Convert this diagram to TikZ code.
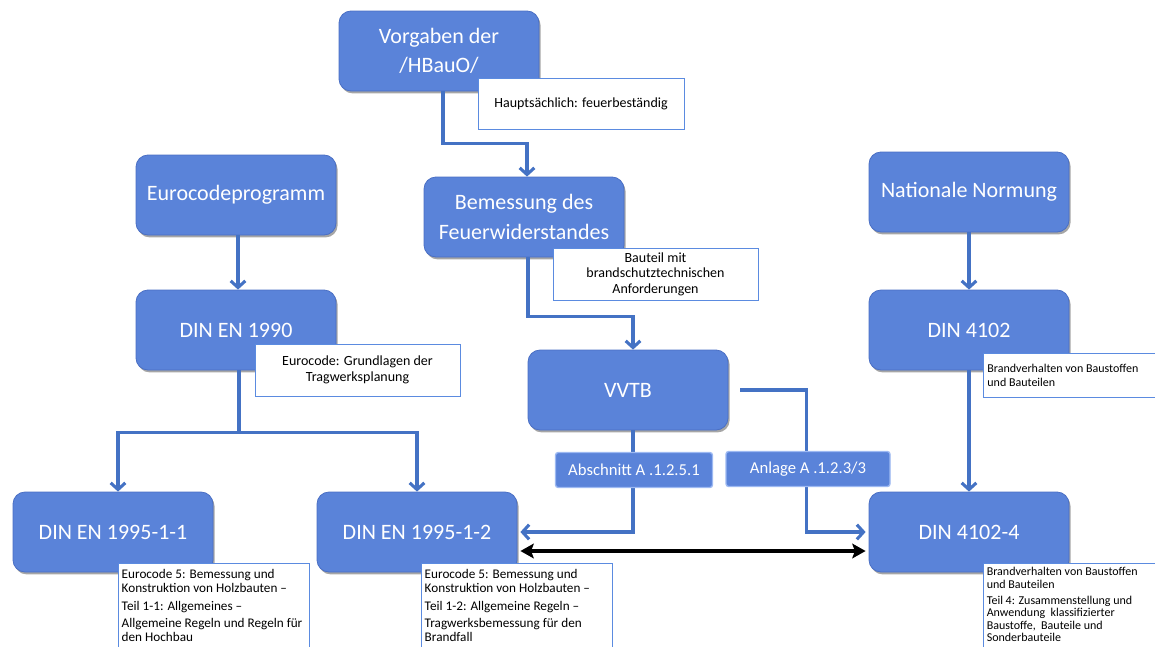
\documentclass[tikz,border=0pt]{standalone}
\usepackage{fontspec}
\setmainfont{Carlito}
\usetikzlibrary{arrows.meta,shadows,calc}
\definecolor{boxblue}{HTML}{5A83D9}
\definecolor{boxedge}{HTML}{4A6FC4}
\definecolor{lineblue}{HTML}{4472C4}
\definecolor{lblborder}{HTML}{9DB9F2}
\definecolor{noteborder}{HTML}{5B8BE0}
\begin{document}
\begin{tikzpicture}[x=0.75pt,y=-0.75pt,
  box/.style={rectangle, rounded corners=9pt, fill=boxblue, draw=boxedge, line width=0.6pt,
    text=white, minimum width=150pt, minimum height=60pt, align=center,
    font=\fontsize{16.5}{22}\selectfont,
    drop shadow={shadow xshift=1.2pt, shadow yshift=-1.8pt, opacity=0.35, fill=black}},
  lbl/.style={rectangle, rounded corners=2pt, fill=boxblue, draw=lblborder, line width=1pt,
    text=white, minimum width=117.75pt, minimum height=26.25pt, inner sep=1pt,
    font=\fontsize{12.5}{14}\selectfont},
  note/.style={rectangle, fill=white, draw=noteborder, line width=0.6pt, text=black, align=center,
    font=\fontsize{10.5}{11.7}\selectfont},
  smallnote/.style={note, anchor=north west, inner xsep=2.5pt, inner ysep=4.5pt,
    font=\fontsize{9.9}{10.2}\selectfont},
  wire/.style={draw=lineblue, line width=2.3pt},
  conn/.style={wire, -{Straight Barb[length=5pt,width=11pt]}},
  dbl/.style={draw=black, line width=3.4pt, {Stealth[length=10pt,width=11pt,inset=2pt]}-{Stealth[length=10pt,width=11pt,inset=2pt]}}
]
\useasboundingbox (0,0) rectangle (1155,646);
\clip (0,0) rectangle (1155,646);
\fill[white] (0,0) rectangle (1155,646);

% main boxes
\node[box] (vorg) at (439,51) {Vorgaben der\\/HBauO/};
\node[box] (euro) at (236,195) {Eurocodeprogramm};
\node[box] (bem) at (524,217) {Bemessung des\\Feuerwiderstandes};
\node[box] (nat) at (969,192) {Nationale Normung};
\node[box] (en1990) at (236,330) {DIN EN 1990};
\node[box] (vvtb) at (628,390) {VVTB};
\node[box] (din4102) at (969,330) {DIN 4102};
\node[box] (en11) at (113,532) {DIN EN 1995-1-1};
\node[box] (en12) at (417,532) {DIN EN 1995-1-2};
\node[box] (din41024) at (969,532) {DIN 4102-4};

% connectors
\draw[conn] ([xshift=3pt]vorg.south) -- ++(0,52) -| ([xshift=2.25pt]bem.north);
\draw[conn] ([xshift=1.5pt]euro.south) -- ([xshift=1.5pt]en1990.north);
\draw[conn] ([xshift=3pt]bem.south) -- ++(0,59) -| ([xshift=3.75pt]vvtb.north);
\draw[conn] (nat.south) -- (din4102.north);
\draw[wire] ([xshift=2.25pt]en1990.south) -- ++(0,62) coordinate (split);
\draw[conn] (split) -| ([xshift=3.75pt]en11.north);
\draw[conn] (split) -| (en12.north);
\draw[conn] (din4102.south) -- (din41024.north);
\draw[conn] ([xshift=3.75pt]vvtb.south) |- ([xshift=2.25pt]en12.east);
\draw[conn] ([xshift=9pt]vvtb.east) -- ++(66,0) |- ([xshift=-2.25pt]din41024.west);
\draw[dbl] ([xshift=2.25pt,yshift=-14.25pt]en12.east) -- ([xshift=-2.25pt,yshift=-14.25pt]din41024.west);

% labels on connectors
\node[lbl] (abs) at (634,470) {Abschnitt A .1.2.5.1};
\node[lbl, minimum width=123pt] (anl) at (808,469) {Anlage A .1.2.3/3};

% notes
\node[note, minimum width=154.5pt, minimum height=38.25pt] (n1) at (581,103.5) {Hauptsächlich: feuerbeständig};
\node[note, minimum width=153.75pt, minimum height=39pt, inner sep=1pt] (n2) at (655.5,274) {Bauteil mit\\brandschutztechnischen\\Anforderungen};
\node[note, minimum width=153.75pt, minimum height=39pt] (n3) at (357.5,370) {Eurocode: Grundlagen der\\Tragwerksplanung};
\node[note, anchor=north west, inner xsep=3pt, inner ysep=0pt, font=\fontsize{9}{10}\selectfont] (n4) at (983,353)
  {\parbox[c][33pt][c]{132pt}{\raggedright Brandverhalten von Baustoffen\\und Bauteilen}};
\node[smallnote] (n5) at (118,563)
  {\parbox[t][64pt][t]{138pt}{\raggedright Eurocode 5: Bemessung und\\Konstruktion von Holzbauten –\\[3.2pt]Teil 1-1: Allgemeines –\\[3.2pt]Allgemeine Regeln und Regeln für\\den Hochbau}};
\node[smallnote] (n6) at (421,563)
  {\parbox[t][64pt][t]{138pt}{\raggedright Eurocode 5: Bemessung und\\Konstruktion von Holzbauten –\\[3.2pt]Teil 1-2: Allgemeine Regeln –\\[3.2pt]Tragwerksbemessung für den\\Brandfall}};
\node[smallnote, inner ysep=3pt, font=\fontsize{9}{9.3}\selectfont] (n7) at (983,563)
  {\parbox[t][64pt][t]{135pt}{\raggedright Brandverhalten von Baustoffen\\und Bauteilen\\[3pt]Teil 4: Zusammenstellung und\\Anwendung\ \ klassifizierter\\Baustoffe,\ \ Bauteile und\\Sonderbauteile}};
\end{tikzpicture}
\end{document}
